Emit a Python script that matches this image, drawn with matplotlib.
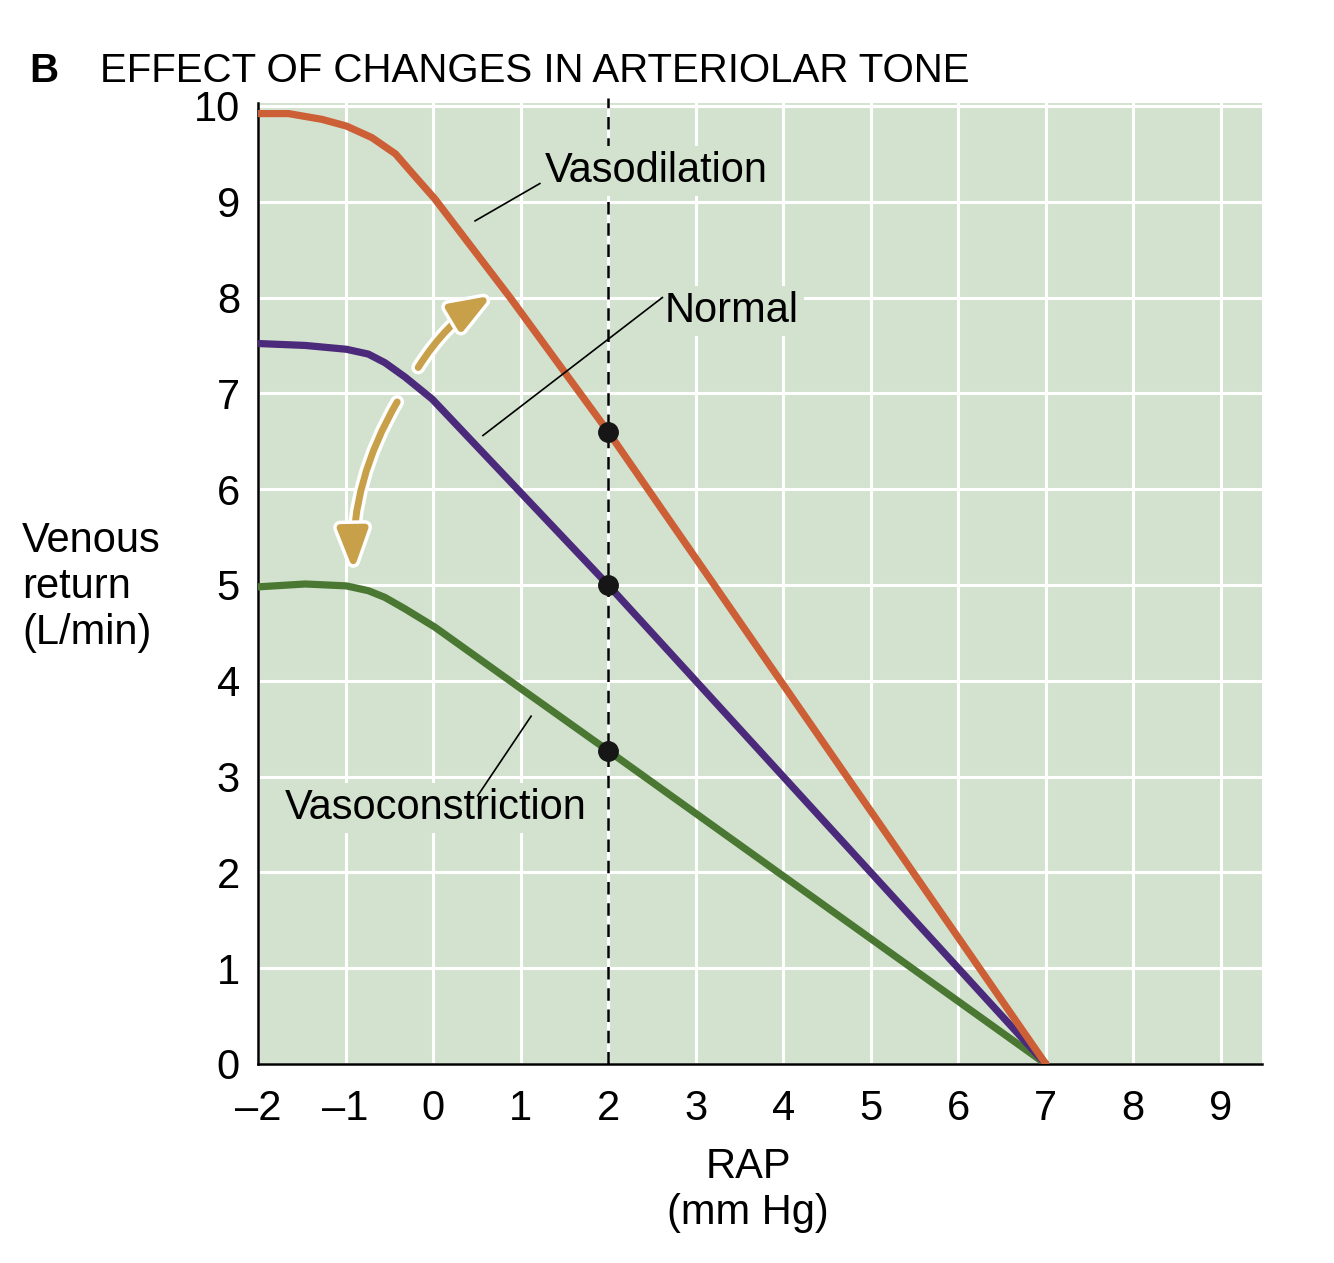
import matplotlib.pyplot as plt
import matplotlib.patheffects as pe
from matplotlib.patches import FancyArrowPatch

plt.rcParams['font.family'] = ['Liberation Sans', 'DejaVu Sans']

# Curves: RAP (mm Hg) vs venous return (L/min)
x_dil = [-2.0, -1.65, -1.27, -0.99, -0.70, -0.43, -0.24, 0.02, 0.88, 2.0, 7.0]
y_dil = [9.92, 9.92, 9.86, 9.79, 9.67, 9.50, 9.30, 9.03, 8.0, 6.6, 0.0]

x_norm = [-2.0, -1.46, -0.99, -0.74, -0.55, -0.32, -0.01, 2.0, 7.0]
y_norm = [7.52, 7.50, 7.46, 7.41, 7.32, 7.17, 6.94, 5.0, 0.0]

x_con = [-2.0, -1.46, -0.99, -0.74, -0.55, -0.32, 0.02, 1.0, 2.0, 7.0]
y_con = [4.98, 5.01, 4.99, 4.94, 4.87, 4.75, 4.56, 3.92, 3.27, 0.0]

# equilibrium points at RAP = 2
dot_x = [2, 2, 2]
dot_y = [6.6, 5.0, 3.27]

xticks = [-2, -1, 0, 1, 2, 3, 4, 5, 6, 7, 8, 9]
yticks = [0, 1, 2, 3, 4, 5, 6, 7, 8, 9, 10]

bg = '#d3e2cf'
c_dil = '#cc5f35'
c_norm = '#4b2a7b'
c_con = '#4a7833'
c_arrow = '#c9a04a'

fig = plt.figure(figsize=(13.34, 12.63), dpi=100)
ax = fig.add_axes([0.1934, 0.1576, 0.7526, 0.7608])
ax.set_facecolor(bg)
ax.set_xlim(-2, 9.47)
ax.set_ylim(0, 10.03)
ax.set_xticks(xticks)
ax.set_yticks(yticks)
ax.set_xticklabels([str(t).replace('-', '\u2013') for t in xticks])
ax.tick_params(length=0, labelsize=30)
ax.tick_params(axis='y', pad=13)
ax.tick_params(axis='x', pad=18)
ax.set_axisbelow(True)
ax.grid(True, color='white', linewidth=2.2)
for s in ['top', 'right']:
    ax.spines[s].set_visible(False)
for s in ['left', 'bottom']:
    ax.spines[s].set_linewidth(1.8)

# dashed marker at RAP = 2
ax.plot([2, 2], [0, 10.08], color='black', lw=1.8, ls=(0, (5, 3.5)),
        clip_on=False, zorder=2)

kw = dict(lw=5.2, solid_capstyle='round', solid_joinstyle='round', zorder=3)
ax.plot(x_con, y_con, color=c_con, **kw)
ax.plot(x_norm, y_norm, color=c_norm, **kw)
ax.plot(x_dil, y_dil, color=c_dil, **kw)
ax.plot(dot_x, dot_y, 'o', color='#161616', markersize=14, zorder=4)

# labels with leader lines
box = dict(boxstyle='square,pad=0.12', fc=bg, ec='none')
ax.text(1.28, 9.32, 'Vasodilation', fontsize=30, va='center', ha='left', bbox=box, zorder=3)
ax.plot([0.48, 1.22], [8.80, 9.19], color='black', lw=1.2, zorder=3)
ax.text(2.65, 7.86, 'Normal', fontsize=30, va='center', ha='left', bbox=box, zorder=3)
ax.plot([0.57, 2.62], [6.56, 8.0], color='black', lw=1.2, zorder=3)
ax.text(-1.69, 2.67, 'Vasoconstriction', fontsize=30, va='center', ha='left', bbox=box, zorder=3)
ax.plot([0.51, 1.12], [2.80, 3.63], color='black', lw=1.2, zorder=3)

# curved arrows showing the shift in tone
stroke = [pe.Stroke(linewidth=10, foreground='white'), pe.Normal()]
for tail, head, rad in [((-0.17, 7.27), (0.67, 8.02), -0.12),
                        ((-0.41, 6.91), (-0.91, 5.15), 0.14)]:
    arr = FancyArrowPatch(tail, head, connectionstyle=f'arc3,rad={rad}',
                          arrowstyle='-|>,head_length=0.8,head_width=0.3',
                          mutation_scale=30, color=c_arrow, lw=5,
                          shrinkA=0, shrinkB=0, zorder=3)
    arr.set_path_effects(stroke)
    ax.add_patch(arr)

# axis titles
fig.text(0.0165, 0.535, 'Venous\nreturn\n(L/min)', fontsize=30, ha='left', va='center',
         linespacing=1.2)
fig.text(0.561, 0.058, 'RAP\n(mm Hg)', fontsize=30, ha='center', va='center',
         linespacing=1.2)
fig.text(0.022, 0.944, 'B', fontsize=29, fontweight='bold', ha='left', va='center')
fig.text(0.075, 0.944, 'EFFECT OF CHANGES IN ARTERIOLAR TONE', fontsize=29,
         ha='left', va='center')

fig.savefig('out.png', dpi=100)
